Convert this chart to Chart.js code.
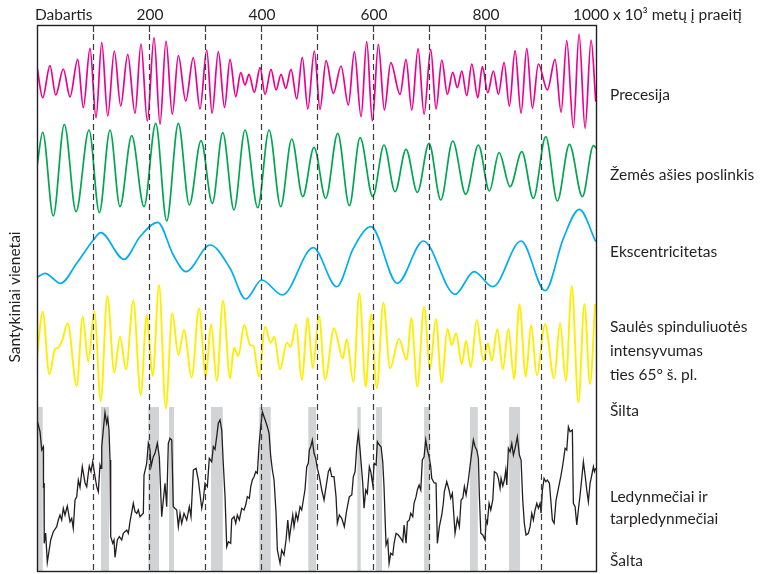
<!DOCTYPE html>
<html>
<head>
<meta charset="utf-8">
<script src="https://cdn.jsdelivr.net/npm/chart.js@4/dist/chart.umd.min.js"></script>
<style>
  body { margin: 0; background: #fff; }
  #wrap { width: 778px; height: 574px; }
</style>
</head>
<body>
<div id="wrap"><canvas id="chart" width="778" height="574"></canvas></div>
<script>
// Values: [thousand years ago, relative units]
const precession = [[0,63.3],[10.2,32.3],[23.2,64.3],[33.4,35],[47,61],[58.9,33],[72.7,70.7],[82.7,22.3],[94.7,81.7],[105.4,12.3],
  [115.6,87.3],[126.3,14],[138.1,79],[149.5,24],[162,75.7],[175,16.7],[185.7,86],[197,9],[209,92.3],[219.7,5.7],
  [230.4,89],[241.6,15.7],[252.4,74.3],[265.6,29],[279.1,72.3],[291.1,21],[303.1,80],[312.6,16.7],[323.8,78.3],[334.9,22.5],
  [344.7,70.7],[354.9,33.3],[363.8,57.3],[371.5,45],[378.6,55.7],[388.1,37.7],[398.3,62.3],[407.2,35.7],[417.9,60.7],[426.9,40],
  [435.8,55.7],[444.2,41.7],[453.6,60.7],[463.8,31],[473.8,72.7],[483.5,21],[495.3,79],[505.4,20.7],[516.2,69.3],[529.2,36.7],
  [542.9,64],[556,25],[566.7,78.3],[578.7,13.3],[588.8,88.3],[598.8,9],[609.6,85.7],[620.3,20],[631.7,67.3],[648.3,35.7],
  [659,70.7],[669.2,20],[680.5,81.3],[691.2,15.7],[703.1,80.7],[712.6,21],[722.8,70],[732.8,35.7],[742.4,57.7],[750.7,42.3],
  [758.5,59],[767.4,34.3],[776.4,66],[787.1,32.3],[795.3,63.3],[804.9,37.3],[815,59],[823.9,35.7],[834.1,67.3],[843.5,24],
  [853.7,79.3],[864.4,16.7],[874.6,81.7],[884.6,21.7],[895.3,66],[911.4,40],[925.1,70.7],[935.9,17.7],[946,89.3],[957.8,2.3],
  [968,96],[978.7,1.7],[989.4,90],[997.8,28.3]];

const obliquity = [[0,58.3],[10.2,92.7],[29.1,9],[48.8,100.7],[69.7,13.3],[92.9,95],[111.3,12.3],[130.4,95],[148.2,18.3],[169.1,89.3],
  [191.1,18.3],[212,101.7],[231.6,4],[252.4,101.7],[272,20],[292.9,84.3],[313.1,21.7],[331.7,92.3],[351.8,15],[371.5,95],
  [394.2,17.3],[414.4,95],[435.2,18.3],[454.9,86],[474.5,28.3],[494.7,77.7],[515.6,26.7],[537,91.7],[557.8,19.3],[576.9,87.3],
  [599.6,28.3],[619.7,80],[639.4,33.3],[659,75.7],[679.2,32.7],[700.1,81.7],[721,25],[742.4,84],[765.6,30.7],[788.2,80],
  [807.8,34],[825.1,72.3],[844.8,38.3],[865.7,73.3],[886.4,26.7],[908.5,88.3],[929.2,24],[950.7,80.7],[973.9,28.3],[993.6,79.3],[1000,76]];

const eccentricity = [[0,22.7],[14.3,26.7],[42.3,16.7],[70.9,36.7],[100.6,60],[113.7,67.3],[155.4,40.7],[183.9,63.3],[215.5,77.7],[243.4,45],
  [266.1,28.3],[309,55],[344.7,31.7],[372.7,1],[401.3,20],[438.1,5],[493.4,52.3],[535.3,13.3],[564.9,51.7],[596.5,73.3],
  [643.5,16.7],[689.9,59],[746.5,5.7],[780.5,28.3],[813.9,13.3],[864.4,59],[907.3,9.3],[940,61.7],[968.5,90.7],[997.8,58.3]];

const insolation = [[0,52.7],[10.2,98.3],[22,35.7],[32.1,60.7],[38,62.3],[45.2,70],[54.8,86.7],[70.9,24],[81.6,93.3],[91.6,48.3],
  [102.3,99],[113.8,9],[125.6,114],[138.1,37.3],[148.2,73.3],[159,40.7],[172,109.3],[185.2,15],[196,95],[200,71.7],
  [206.6,34],[217.9,125],[229.9,1.7],[241.6,96.7],[252.4,55],[262.5,80],[276.3,32.7],[289.3,101.7],[301.3,33.3],[310.8,86],
  [321,29],[332.2,109.3],[344.7,31.7],[351.8,62.3],[359.5,54],[370.2,85],[380.4,65],[386.3,64],[396.5,33.3],[407.2,83.3],
  [417.4,67.3],[423.8,73.3],[434,40.7],[446,67.3],[453.1,63.3],[462.6,85.7],[472.7,30],[483.5,92.3],[492.4,41.7],[503.6,94],
  [514.4,30.7],[530.4,81.7],[546,51.7],[553.1,70.7],[564.9,28.3],[575.6,116.7],[587.1,23.3],[596.5,95.7],[606.7,21.7],[618.5,107.3],
  [630.4,41.7],[646.5,71],[660.3,50],[668.5,92],[679.2,23.3],[691.2,103.3],[701.9,40.7],[712.1,91],[722.8,27.3],[732.8,81],
  [740.7,65],[748.3,76.7],[758.5,46],[766.2,69.3],[774.6,42.7],[785.3,90],[797.1,49],[805,66.7],[812.1,49.3],[822.1,80.7],
  [831.8,40.7],[841.8,81],[851.9,31],[861.4,105.7],[872.8,33.3],[882.3,85],[892.5,35],[907.3,85.7],[923.4,31.7],[934.1,86.7],
  [944.3,29.3],[955,124],[966.8,7.7],[977.5,106],[987.6,26],[996.6,106]];

const iceRecord = [[0,150],[5.4,138.3],[8.4,120],[11.3,123.3],[11.6,82],[12.5,87],[12.9,26.7],[15.5,37],[18.4,7.7],[24.5,30],
  [29.1,38.3],[35.2,43.3],[38,50],[41.1,55],[44.1,50],[47,61.7],[50,55],[54.1,64],[58.9,48.3],[62,51.7],
  [64.8,41.7],[67.9,70],[70.9,73.3],[73.8,90],[76.8,82.7],[80.9,103.3],[85.7,87.3],[88.8,83.3],[91.6,96.7],[93.4,104],
  [96.4,98.3],[99.5,108.3],[103.6,93.3],[106.6,83.3],[109.5,78.3],[112.5,105],[114.3,101.7],[115.6,123.3],[118.4,140],[121.4,157.3],
  [124.4,146.7],[126.3,151.7],[128.6,140],[130.4,110],[131.6,33.3],[135.2,26.7],[137.5,30],[139.3,12.7],[143.4,30],[147,33.3],
  [151.3,30],[154.1,36.7],[160.2,40],[163.1,36.7],[166.1,48.3],[172,66.7],[175,58.3],[178.1,56.7],[180.9,60],[184,53.3],
  [189.9,56.7],[191.1,95],[195.9,106.7],[198.8,126.7],[201.8,120],[203.6,103.3],[207.7,113.3],[210.7,116.7],[214.9,126.7],[218.4,113.3],
  [222.7,53.3],[225.6,70],[228.6,86.7],[231.6,63.3],[234.5,126.7],[237.5,131.7],[240.6,130],[243.4,63.3],[249.5,60],[252.4,43.3],
  [255.4,56.7],[258.4,46.7],[262.5,56.7],[267.4,50],[272,63.3],[275,53.3],[279.2,100],[284,101.7],[288.1,90],[292.4,70],
  [294.2,61.7],[297,70],[300,86.7],[304.2,83.3],[307.7,111.7],[312,108.3],[314.9,123.3],[317.9,120.7],[320.9,133.3],[323.8,146.7],
  [326.8,150],[329.9,140],[332.7,106],[335.8,73.3],[338.8,23.3],[341.7,28.3],[345.9,26.7],[347.7,50.7],[351.8,53.3],[354.9,46.7],
  [357.7,55],[361.3,50],[365.6,61.7],[369.7,60],[372.7,65],[375.6,73.3],[379.2,71.7],[381.7,83.3],[384.5,90],[387.6,93.3],
  [390.6,98.3],[393.5,96.7],[396.5,125],[399.5,143.3],[402.4,158.3],[405.4,153.3],[408.5,148.3],[411.3,143.3],[414.4,136.7],[417.4,113.3],
  [420.3,100],[423.3,90],[426.9,56.7],[429.2,20],[434,6.7],[437,20],[441.1,15],[444.7,30],[447.8,50],[450.6,31.7],
  [453.6,43.3],[456.7,55],[459,43.3],[462.6,56.7],[465.6,50],[469.7,63.3],[472.7,60],[475.6,70],[478.5,80],[481.7,103.3],
  [484.5,106.7],[486.3,120],[488.8,123.3],[491.7,130],[494.7,116.7],[497.8,111.7],[500.6,101.7],[504.2,93.3],[508.5,80],[512.6,70],
  [516.2,83.3],[520.3,98.3],[523.3,101.7],[526.3,93.3],[530.4,93.3],[534,73.3],[536.3,46.7],[539.9,55],[544.2,51.7],[548.8,43.3],
  [553.1,60],[557.8,73.3],[562.1,75],[564.9,93.3],[568,98.3],[571,123.3],[573.8,136.7],[576.9,120],[581.7,86.7],[584,61.7],
  [587.1,80],[589.9,76.7],[593.5,103.3],[596,98.3],[599.6,85],[602,106.7],[605.5,105],[607.8,128.3],[611.4,125],[614.4,123.3],
  [617.4,108.3],[619.7,83.3],[621.5,53.3],[623.3,25],[626.4,30],[628.7,6.7],[631.7,16.7],[635.3,15],[637.6,26.7],[641.2,36.7],
  [645.3,35],[649.6,31.7],[653.2,28.3],[655.5,45],[659,26.7],[661.4,48.3],[664.9,50],[667.4,56.7],[671,53.3],[673.3,66.7],
  [676.9,73.3],[679.2,80],[682.3,85],[685.3,80],[688.1,110],[691.2,113.3],[694.2,130],[697.1,120],[700.1,113.3],[703.1,103.3],
  [704.9,91.7],[709,87.3],[712.6,86.7],[714.9,26.7],[718.5,43.3],[722.8,55],[725.6,66.7],[727.4,78.3],[731.7,88.3],[735.8,80],
  [738.8,71.7],[741.7,76.7],[746.5,36.7],[750.6,51.7],[754.2,43.3],[757.3,70],[760.3,71.7],[763.2,83.3],[766.2,75],[770.3,90],
  [774.6,110],[779.2,130],[782.3,123.3],[785.3,120],[788.2,111.7],[790,73.3],[792.5,36.7],[796,35],[800.1,30],[801.9,50],
  [804.2,46.7],[807.3,66.7],[810.3,60],[813.9,70],[816.7,98.3],[821,96.7],[823.9,91.7],[826.9,81.7],[828.7,91.7],[831.8,84],
  [834.6,90],[837.1,100],[838.9,85],[841.8,121.7],[844.8,118.3],[847.8,126.7],[850.7,115],[853.7,121.7],[857.8,133.3],[861.4,115],
  [864.4,110],[867.4,70],[870.2,46.7],[873.3,35],[877.4,36.7],[880.5,43.3],[883.5,56.7],[886.4,50],[889.4,60],[892.5,66.7],
  [895.3,61.7],[898.4,66.7],[900.1,56.7],[902.5,80],[905.5,91.7],[908.5,88.3],[911.4,90],[915,86.7],[917.5,70],[920.3,50],
  [923.4,46.7],[926.9,70],[931.1,81.7],[935.3,93.3],[938.9,105],[943,121.7],[946,120],[948.9,143.3],[951.9,138.3],[956,140],
  [957.8,66.7],[960.9,63.3],[963.9,45],[966.7,60],[969.8,75],[972.8,91.7],[975.7,108.3],[978.7,95],[981.7,80],[984.6,68.3],
  [987.6,86.7],[990.7,95],[993.6,103.3],[995.4,98.3],[997.8,101.7]];

// warm periods (gray bars), thousand years ago
const warmPeriods = [[0,10.2],[114.3,128.6],[198.8,217.9],[235.8,244.7],[310.8,331.7],[397,417.4],
  [484.5,498.3],[572.1,578.1],[605.5,616.2],[691.2,701.9],[773.3,787.1],[843,862.6]];

const topTicks = [200, 400, 600, 800];
const gridLines = [100, 200, 300, 400, 500, 600, 700, 800, 900];

const rightLabels = [
  ['Precesija', 95],
  ['Žemės ašies poslinkis', 175],
  ['Ekscentricitetas', 252],
  ['Saulės spinduliuotės', 327],
  ['intensyvumas', 351],
  ['ties 65° š. pl.', 375],
  ['Šilta', 411],
  ['Ledynmečiai ir', 497],
  ['tarpledynmečiai', 519],
  ['Šalta', 561]
];

// Layout: each curve gets its own hidden axis; baseline = pixel row of value 0
const area = { left: 37, right: 597, top: 25, bottom: 571 };
const FONT = '15.5px Lato, "Liberation Sans", sans-serif';
const INK = '#231f20';

function bandAxis(baseline) {
  return { type: 'linear', display: false, min: baseline - area.bottom, max: baseline - area.top };
}

function toPoints(arr) {
  return arr.map(p => ({ x: p[0], y: p[1] }));
}

function curve(arr, color, axis, smooth, width) {
  return {
    data: toPoints(arr),
    borderColor: color,
    borderWidth: width,
    pointRadius: 0,
    fill: false,
    yAxisID: axis,
    cubicInterpolationMode: smooth ? 'monotone' : 'default',
    tension: 0
  };
}

const framePlugin = {
  id: 'framePlugin',
  beforeDatasetsDraw(chart) {
    const ctx = chart.ctx;
    const x = chart.scales.x;
    const yIce = chart.scales.yIce;
    const top = yIce.getPixelForValue(163);
    ctx.save();
    ctx.fillStyle = '#d1d3d4';
    warmPeriods.forEach(w => {
      const x0 = x.getPixelForValue(w[0]);
      const x1 = x.getPixelForValue(w[1]);
      ctx.fillRect(x0, top, x1 - x0, area.bottom - top);
    });
    ctx.restore();
  },
  afterDatasetsDraw(chart) {
    const ctx = chart.ctx;
    const x = chart.scales.x;
    ctx.save();

    // dashed century lines with a short solid tick at the top
    gridLines.forEach(v => {
      const px = Math.round(x.getPixelForValue(v)) + 0.5;
      ctx.strokeStyle = '#3a3a3a';
      ctx.lineWidth = 1.2;
      ctx.setLineDash([]);
      ctx.beginPath();
      ctx.moveTo(px, area.top);
      ctx.lineTo(px, area.top + 7);
      ctx.stroke();
      ctx.setLineDash([6, 4]);
      ctx.beginPath();
      ctx.moveTo(px, area.top + 9);
      ctx.lineTo(px, area.bottom);
      ctx.stroke();
    });
    ctx.setLineDash([]);

    // frame
    ctx.strokeStyle = INK;
    ctx.lineWidth = 1.4;
    ctx.strokeRect(area.left + 0.5, area.top + 0.5, area.right - area.left - 1, area.bottom - area.top);

    // top labels
    ctx.fillStyle = INK;
    ctx.font = FONT;
    ctx.textBaseline = 'middle';
    ctx.textAlign = 'left';
    ctx.fillText('Dabartis', area.left - 2, 15);
    ctx.textAlign = 'center';
    topTicks.forEach(v => ctx.fillText(String(v), x.getPixelForValue(v) + 1, 15));
    ctx.textAlign = 'left';
    ctx.fillText('1000 x 10³ metų į praeitį', 573, 15);

    // right labels
    rightLabels.forEach(l => ctx.fillText(l[0], 610, l[1]));

    // left axis title
    ctx.translate(15, 297);
    ctx.rotate(-Math.PI / 2);
    ctx.textAlign = 'center';
    ctx.fillText('Santykiniai vienetai', 0, 0);
    ctx.restore();
  }
};

new Chart(document.getElementById('chart'), {
  type: 'line',
  data: {
    datasets: [
      curve(precession, '#ec008c', 'yPrec', true, 1.7),
      curve(obliquity, '#00a651', 'yObl', true, 1.7),
      curve(eccentricity, '#00aeef', 'yEcc', true, 1.7),
      curve(insolation, '#ffed00', 'yIns', true, 1.9),
      curve(iceRecord, INK, 'yIce', false, 1.3)
    ]
  },
  options: {
    responsive: false,
    devicePixelRatio: 1,
    animation: false,
    layout: { padding: { left: area.left, right: 778 - area.right, top: area.top, bottom: 574 - area.bottom } },
    plugins: { legend: { display: false }, tooltip: { enabled: false } },
    scales: {
      x: { type: 'linear', display: false, min: 0, max: 1000 },
      yPrec: bandAxis(130),
      yObl: bandAxis(225),
      yEcc: bandAxis(300),
      yIns: bandAxis(410),
      yIce: bandAxis(570)
    }
  },
  plugins: [framePlugin]
});
</script>
</body>
</html>
